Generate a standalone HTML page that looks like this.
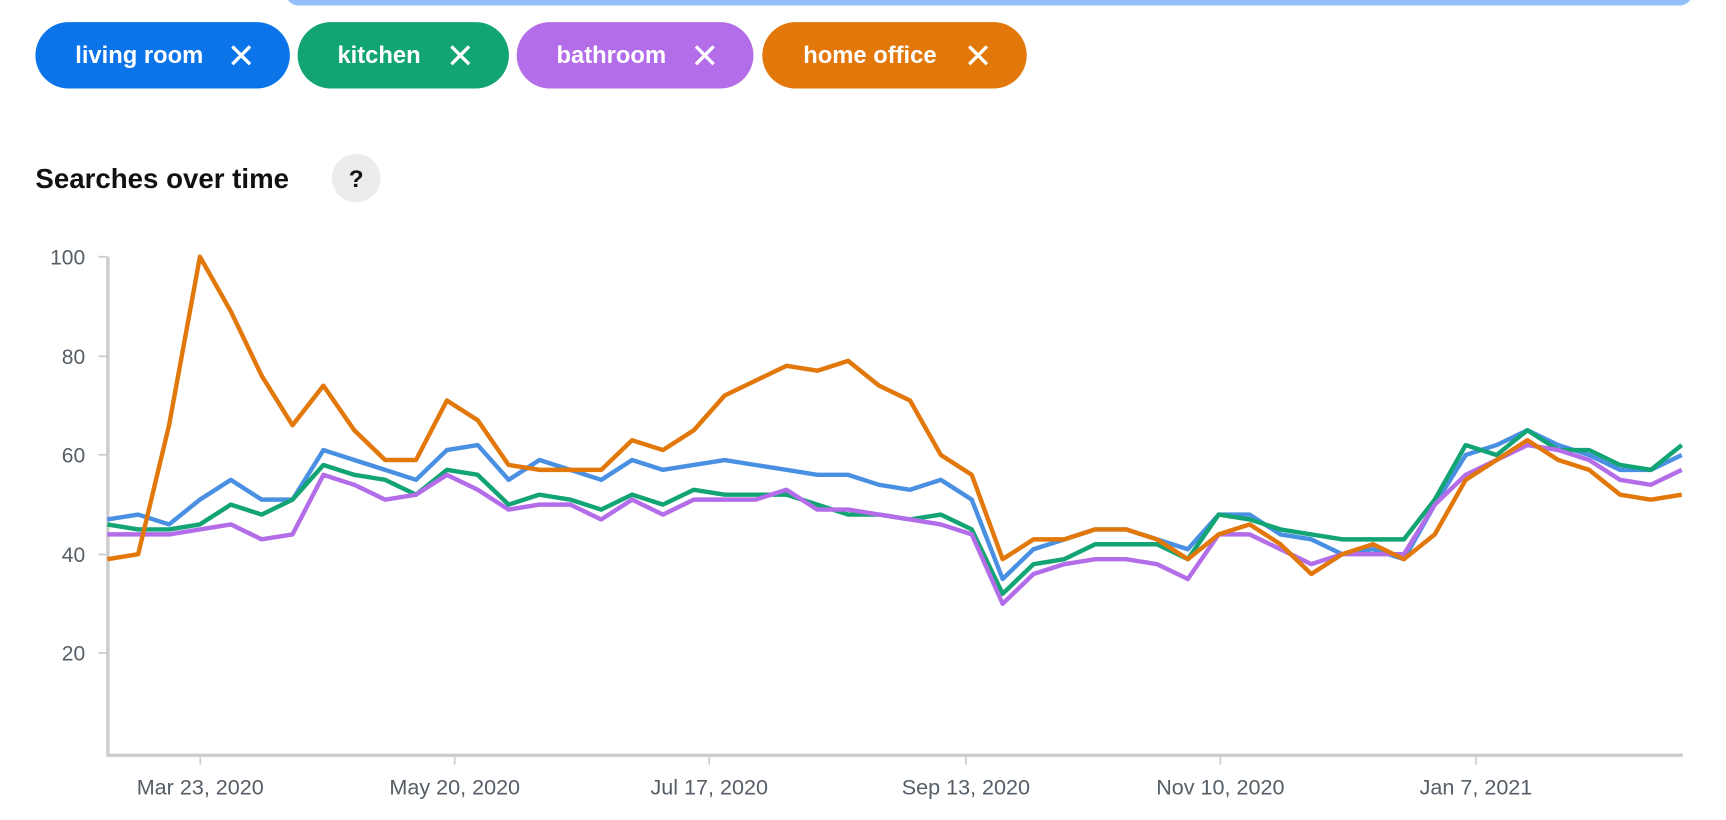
<!DOCTYPE html>
<html><head><meta charset="utf-8"><style>
html,body{margin:0;padding:0;background:#fff;overflow:hidden}
svg{display:block}
text{font-family:"Liberation Sans",Arial,sans-serif}
</style></head><body>
<svg id="s" width="1726" height="820" viewBox="0 0 1560 741" preserveAspectRatio="none" xmlns="http://www.w3.org/2000/svg">
<rect x="258" y="-20" width="1272" height="25" rx="12" fill="#93c0f8"/>
<rect x="32" y="20" width="230" height="60" rx="30" fill="#0a74e8"/>
<text x="68" y="57" font-size="21.5" font-weight="bold" fill="#fff">living room</text>
<path d="M210 42 l16 16 M226 42 l-16 16" stroke="#fff" stroke-width="3"/>
<rect x="269" y="20" width="191" height="60" rx="30" fill="#12a474"/>
<text x="305" y="57" font-size="21.5" font-weight="bold" fill="#fff">kitchen</text>
<path d="M408 42 l16 16 M424 42 l-16 16" stroke="#fff" stroke-width="3"/>
<rect x="467" y="20" width="214" height="60" rx="30" fill="#b46de9"/>
<text x="503" y="57" font-size="21.5" font-weight="bold" fill="#fff">bathroom</text>
<path d="M629 42 l16 16 M645 42 l-16 16" stroke="#fff" stroke-width="3"/>
<rect x="689" y="20" width="239" height="60" rx="30" fill="#e2780a"/>
<text x="726" y="57" font-size="21.5" font-weight="bold" fill="#fff">home office</text>
<path d="M876 42 l16 16 M892 42 l-16 16" stroke="#fff" stroke-width="3"/>
<text x="32" y="170" font-size="25" font-weight="bold" fill="#111">Searches over time</text>
<circle cx="322" cy="161" r="22" fill="#ececec"/>
<text x="322" y="169" font-size="22" font-weight="bold" fill="#111" text-anchor="middle">?</text>
<g font-size="19" fill="#555e66" text-anchor="end">
<text x="77" y="239">100</text><text x="77" y="329">80</text><text x="77" y="418">60</text><text x="77" y="508">40</text><text x="77" y="597">20</text>
</g>
<g stroke="#ccc" stroke-width="1.5">
<path d="M89 232h8M89 322h8M89 411h8M89 501h8M89 590h8"/>
</g>
<path d="M97.5 232V684M96 682.5H1521" stroke="#ccc" stroke-width="3" fill="none"/>
<g stroke="#ccc" stroke-width="1.5"><path d="M181 682v9M411 682v9M641 682v9M873 682v9M1103 682v9M1334 682v9"/></g>
<g font-size="19.5" fill="#555e66" text-anchor="middle">
<text x="181" y="718">Mar 23, 2020</text><text x="411" y="718">May 20, 2020</text><text x="641" y="718">Jul 17, 2020</text><text x="873" y="718">Sep 13, 2020</text><text x="1103" y="718">Nov 10, 2020</text><text x="1334" y="718">Jan 7, 2021</text>
</g>
<g id="lines" fill="none" stroke-width="4" stroke-linejoin="round"></g>
</svg>
<script>
var D=[
["#4a90e2",[47,48,46,51,55,51,51,61,59,57,55,61,62,55,59,57,55,59,57,58,59,58,57,56,56,54,53,55,51,35,41,43,45,45,43,41,48,48,44,43,40,41,39,50,60,62,65,62,60,57,57,60]],
["#12a474",[46,45,45,46,50,48,51,58,56,55,52,57,56,50,52,51,49,52,50,53,52,52,52,50,48,48,47,48,45,32,38,39,42,42,42,39,48,47,45,44,43,43,43,51,62,60,65,61,61,58,57,62]],
["#b46de9",[44,44,44,45,46,43,44,56,54,51,52,56,53,49,50,50,47,51,48,51,51,51,53,49,49,48,47,46,44,30,36,38,39,39,38,35,44,44,41,38,40,40,40,50,56,59,62,61,59,55,54,57]],
["#e2780a",[39,40,66,100,89,76,66,74,65,59,59,71,67,58,57,57,57,63,61,65,72,75,78,77,79,74,71,60,56,39,43,43,45,45,43,39,44,46,42,36,40,42,39,44,55,59,63,59,57,52,51,52]]
];
var g=document.getElementById('lines');
D.forEach(function(s){
 var n=s[1].length,pts=s[1].map(function(v,i){return (97+i*(1520-97)/(n-1)).toFixed(1)+','+(680-v*4.48).toFixed(1)}).join(' ');
 var p=document.createElementNS('http://www.w3.org/2000/svg','polyline');
 p.setAttribute('points',pts);p.setAttribute('stroke',s[0]);g.appendChild(p);
});
</script>
</body></html>
